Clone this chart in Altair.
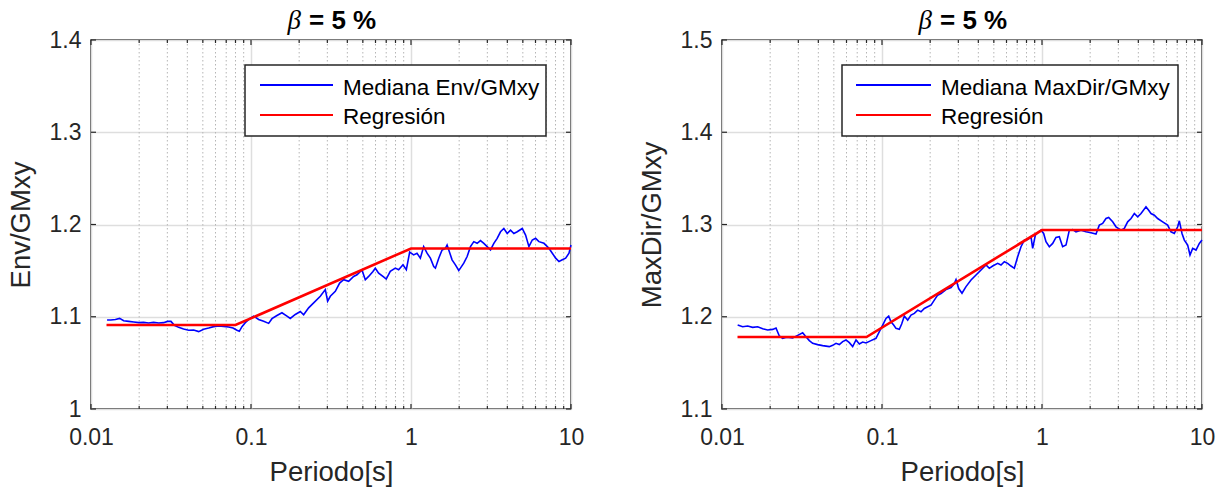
import altair as alt
import pandas as pd

# ---------------- data ----------------
x_major = [0.01, 0.1, 1, 10]
x_minor = [0.02, 0.03, 0.04, 0.05, 0.06, 0.07, 0.08, 0.09,
           0.2, 0.3, 0.4, 0.5, 0.6, 0.7, 0.8, 0.9,
           2, 3, 4, 5, 6, 7, 8, 9]

env_yticks = [1.0, 1.1, 1.2, 1.3, 1.4]
dir_yticks = [1.1, 1.2, 1.3, 1.4, 1.5]

env_T = [0.0126, 0.0133, 0.0142, 0.0151, 0.0160, 0.0172, 0.0185, 0.0199, 0.0213, 0.0229,
         0.0246, 0.0265, 0.0284, 0.0301, 0.0316, 0.0332, 0.0353, 0.0379, 0.0408, 0.0438,
         0.0471, 0.0506, 0.0544, 0.0584, 0.0628, 0.0675, 0.0725, 0.0772, 0.0817, 0.0845,
         0.0878, 0.0921, 0.0981, 0.1039, 0.1116, 0.1200, 0.1289, 0.1352, 0.1453, 0.1561,
         0.1678, 0.1760, 0.1892, 0.2033, 0.2133, 0.2292, 0.2464, 0.2711, 0.2913, 0.3013,
         0.3131, 0.3365, 0.3581, 0.3793, 0.4076, 0.4380, 0.4596, 0.4938, 0.5181, 0.5435,
         0.5785, 0.5984, 0.6276, 0.674, 0.700, 0.742, 0.798, 0.837, 0.891, 0.935,
         0.981, 1.039, 1.090, 1.144, 1.200, 1.260, 1.322, 1.387, 1.421, 1.491,
         1.564, 1.641, 1.681, 1.722, 1.806, 1.895, 1.989, 2.037, 2.137, 2.243,
         2.353, 2.469, 2.590, 2.718, 2.852, 2.992, 3.140, 3.294, 3.456, 3.627,
         3.805, 3.993, 4.189, 4.395, 4.612, 4.958, 5.202, 5.458, 5.727, 6.008,
         6.304, 6.777, 7.281, 7.641, 8.017, 8.412, 8.826, 9.261, 9.716, 10.0]
env_med = [1.0964, 1.0964, 1.0971, 1.0982, 1.0957, 1.0950, 1.0943, 1.0936, 1.0939, 1.0932,
           1.0939, 1.0932, 1.0936, 1.0950, 1.0950, 1.0907, 1.0885, 1.0868, 1.0853, 1.0857,
           1.0839, 1.0864, 1.0878, 1.0893, 1.0900, 1.0896, 1.0889, 1.0878, 1.0853, 1.0842,
           1.0893, 1.0936, 1.0979, 1.1007, 1.0971, 1.0950, 1.0928, 1.0979, 1.1014, 1.1043,
           1.1007, 1.0982, 1.1025, 1.1057, 1.1021, 1.1097, 1.1150, 1.1222, 1.1294, 1.1168,
           1.1222, 1.1276, 1.1365, 1.1401, 1.1384, 1.1437, 1.1455, 1.1508, 1.1401, 1.1437,
           1.1491, 1.1526, 1.1473, 1.1431, 1.1409, 1.1492, 1.1527, 1.1510, 1.1563, 1.1510,
           1.1700, 1.1671, 1.1689, 1.1635, 1.1760, 1.1689, 1.1635, 1.1545, 1.1527, 1.1635,
           1.1724, 1.1742, 1.1778, 1.1724, 1.1617, 1.1563, 1.1502, 1.1527, 1.1581, 1.1653,
           1.1760, 1.1814, 1.1796, 1.1825, 1.1796, 1.1760, 1.1724, 1.1796, 1.1850, 1.1921,
           1.1957, 1.1903, 1.1939, 1.1903, 1.1921, 1.1957, 1.1885, 1.1760, 1.1832, 1.1850,
           1.1814, 1.1796, 1.1742, 1.1689, 1.1635, 1.1599, 1.1617, 1.1635, 1.1689, 1.1778]
env_reg_T = [0.0125, 0.08, 1.0, 10.0]
env_reg = [1.091, 1.091, 1.174, 1.174]

dir_T = [0.01253, 0.01346, 0.01447, 0.01555, 0.01671, 0.01796, 0.01930, 0.02074, 0.02175, 0.02282,
         0.02394, 0.02536, 0.02765, 0.02971, 0.03193, 0.03317, 0.03514, 0.03687, 0.03962, 0.04258,
         0.04686, 0.04917, 0.05158, 0.05412, 0.05678, 0.05957, 0.06250, 0.06557, 0.06879, 0.07217,
         0.07571, 0.07943, 0.08535, 0.09173, 0.09624, 0.1010, 0.1059, 0.1101, 0.1138, 0.1183,
         0.1223, 0.1283, 0.1327, 0.1379, 0.1447, 0.1518, 0.1593, 0.1671, 0.1753, 0.1839,
         0.1929, 0.2024, 0.2123, 0.2228, 0.2337, 0.2512, 0.2700, 0.2832, 0.2901, 0.3015,
         0.3162, 0.3350, 0.3601, 0.3869, 0.4157, 0.4467, 0.4686, 0.4917, 0.5284, 0.5543,
         0.5816, 0.6100, 0.6401, 0.6715, 0.7046, 0.7392, 0.7755, 0.8137, 0.8537, 0.8744,
         0.9085, 0.9532, 0.9858, 1.024, 1.059, 1.111, 1.166, 1.223, 1.283, 1.346,
         1.413, 1.482, 1.555, 1.631, 1.753, 1.884, 2.025, 2.175, 2.282, 2.394,
         2.512, 2.610, 2.765, 2.901, 3.117, 3.270, 3.431, 3.601, 3.777, 3.963,
         4.158, 4.467, 4.642, 4.801, 5.037, 5.284, 5.678, 6.100, 6.401, 6.715,
         7.046, 7.217, 7.499, 7.755, 8.137, 8.414, 8.744, 9.173, 9.624, 10.0]
dir_med = [1.1910, 1.1892, 1.1899, 1.1885, 1.1892, 1.1870, 1.1856, 1.1863, 1.1878, 1.1791,
           1.1766, 1.1777, 1.1770, 1.1798, 1.1827, 1.1791, 1.1741, 1.1712, 1.1698, 1.1687,
           1.1676, 1.1690, 1.1712, 1.1698, 1.1730, 1.1748, 1.1719, 1.1676, 1.1748, 1.1705,
           1.1726, 1.1716, 1.1741, 1.1766, 1.1838, 1.1910, 1.1982, 1.2007, 1.1946, 1.1910,
           1.1874, 1.1863, 1.1921, 1.2007, 1.1964, 1.2018, 1.2036, 1.2072, 1.2054, 1.2090,
           1.2108, 1.2126, 1.2180, 1.2234, 1.2252, 1.2295, 1.2317, 1.2360, 1.2403, 1.2306,
           1.2255, 1.2327, 1.2399, 1.2453, 1.2507, 1.2561, 1.2525, 1.2550, 1.2579, 1.2561,
           1.2597, 1.2579, 1.2550, 1.2525, 1.2651, 1.2759, 1.2831, 1.2838, 1.2867, 1.2741,
           1.2885, 1.2921, 1.2939, 1.2903, 1.2813, 1.2759, 1.2795, 1.2860, 1.2867, 1.2759,
           1.2777, 1.2939, 1.2946, 1.2921, 1.2939, 1.2921, 1.2910, 1.2896, 1.2993, 1.3011,
           1.3065, 1.3076, 1.3029, 1.2975, 1.2939, 1.2957, 1.3029, 1.3065, 1.3119, 1.3083,
           1.3119, 1.3191, 1.3155, 1.3119, 1.3101, 1.3065, 1.3029, 1.2993, 1.2921, 1.2903,
           1.2975, 1.3040, 1.2903, 1.2831, 1.2777, 1.2669, 1.2741, 1.2723, 1.2795, 1.2831]
dir_reg_T = [0.0125, 0.08, 1.0, 10.0]
dir_reg = [1.178, 1.178, 1.294, 1.294]

# ---------------- layout / style ----------------
W, H = 480, 369
INK = "#262626"
FONT = "Liberation Sans"


def one():
    return pd.DataFrame({"a": [0]})


def panel(T, med, regT, reg, yticks, ytitle, label, box):
    xenc = alt.X("T:Q", scale=alt.Scale(type="log", domain=[0.01, 10], nice=False, padding=0),
                 axis=alt.Axis(values=x_major, format="~g", title="Periodo[s]", labelFlush=False))
    yenc = alt.Y("v:Q", scale=alt.Scale(domain=[yticks[0], yticks[-1]], nice=False, zero=False, padding=0),
                 axis=alt.Axis(values=yticks, format="~g", title=ytitle, labelFlush=False))

    d_med = pd.DataFrame({"T": T, "v": med})
    d_reg = pd.DataFrame({"T": regT, "v": reg})
    d_minor = pd.DataFrame({"T": x_minor})
    d_major = pd.DataFrame({"T": x_major})
    d_yt = pd.DataFrame({"v": yticks})

    minor_grid = alt.Chart(d_minor).mark_rule(color="#b5b5b5", strokeWidth=1, strokeDash=[1.5, 2.5]).encode(
        x=xenc, y=alt.value(0), y2=alt.value(H))
    blue = alt.Chart(d_med).mark_line(color="#0000ff", strokeWidth=1.6).encode(x=xenc, y=yenc)
    red = alt.Chart(d_reg).mark_line(color="#ff0000", strokeWidth=2.6).encode(x=xenc, y=yenc)

    tk = dict(color=INK, strokeWidth=1.2)
    tb_major = alt.Chart(d_major).mark_rule(**tk).encode(x=xenc, y=alt.value(H), y2=alt.value(H - 5))
    tt_major = alt.Chart(d_major).mark_rule(**tk).encode(x=xenc, y=alt.value(0), y2=alt.value(5))
    tb_minor = alt.Chart(d_minor).mark_rule(**tk).encode(x=xenc, y=alt.value(H), y2=alt.value(H - 3))
    tt_minor = alt.Chart(d_minor).mark_rule(**tk).encode(x=xenc, y=alt.value(0), y2=alt.value(3))
    tl = alt.Chart(d_yt).mark_rule(**tk).encode(y=yenc, x=alt.value(0), x2=alt.value(5))
    tr = alt.Chart(d_yt).mark_rule(**tk).encode(y=yenc, x=alt.value(W), x2=alt.value(W - 5))

    bx0, bx1, lx0, lx1, tx = box
    leg_box = alt.Chart(one()).mark_rect(fill="white", stroke=INK, strokeWidth=1.5).encode(
        x=alt.value(bx0), x2=alt.value(bx1), y=alt.value(25), y2=alt.value(96))
    leg_b = alt.Chart(one()).mark_rule(color="#0000ff", strokeWidth=2).encode(
        x=alt.value(lx0), x2=alt.value(lx1), y=alt.value(45))
    leg_r = alt.Chart(one()).mark_rule(color="#ff0000", strokeWidth=2).encode(
        x=alt.value(lx0), x2=alt.value(lx1), y=alt.value(75))
    txt = dict(align="left", baseline="alphabetic", font=FONT, fontSize=22.5, color="#000000")
    leg_t1 = alt.Chart(one()).mark_text(**txt).encode(
        x=alt.value(tx), y=alt.value(55), text=alt.value(label))
    leg_t2 = alt.Chart(one()).mark_text(**txt).encode(
        x=alt.value(tx), y=alt.value(84), text=alt.value("Regresión"))

    beta = alt.Chart(one()).mark_text(align="right", baseline="alphabetic", font="Liberation Serif",
                                      fontStyle="italic", fontSize=27, color="#000000").encode(
        x=alt.value(210), y=alt.value(-11), text=alt.value("β"))
    eq = alt.Chart(one()).mark_text(align="left", baseline="alphabetic", font=FONT,
                                    fontWeight="bold", fontSize=26, color="#000000").encode(
        x=alt.value(218), y=alt.value(-11), text=alt.value("= 5 %"))

    return alt.layer(minor_grid, blue, red, tb_major, tt_major, tb_minor, tt_minor, tl, tr,
                     leg_box, leg_b, leg_r, leg_t1, leg_t2, beta, eq).properties(width=W, height=H)


left = panel(env_T, env_med, env_reg_T, env_reg, env_yticks, "Env/GMxy", "Mediana Env/GMxy",
             (154, 455, 169, 242, 252))
right = panel(dir_T, dir_med, dir_reg_T, dir_reg, dir_yticks, "MaxDir/GMxy", "Mediana MaxDir/GMxy",
              (120, 456, 134, 209, 219))

chart = alt.hconcat(left, right, spacing=52).properties(
    padding={"left": 6, "top": 6, "right": 5, "bottom": 5}
).configure_view(stroke=INK, strokeWidth=1.5).configure_axis(
    labelFont=FONT, labelFontSize=23, labelColor=INK,
    titleFont=FONT, titleFontSize=27.5, titleFontWeight="normal", titleColor=INK,
    domain=False, ticks=False, tickSize=0,
    grid=True, gridColor="#dedede", gridWidth=1.5,
).configure_axisX(labelPadding=17, titlePadding=9).configure_axisY(
    labelPadding=10, titlePadding=14)

chart.save("out.html", embed_options={"renderer": "svg", "actions": False})
